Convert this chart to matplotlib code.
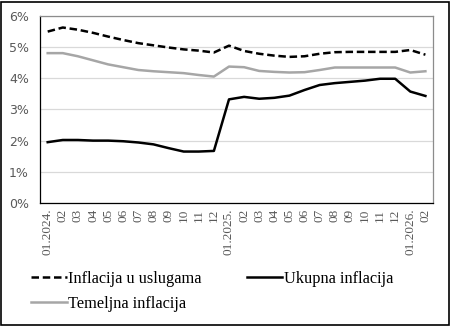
#importing the packages
import matplotlib
matplotlib.use("Agg")
import matplotlib.pyplot as plt
from matplotlib.patches import Rectangle

#data (percent, monthly 01.2024 - 02.2026)
months = ["01.2024.", "02", "03", "04", "05", "06", "07", "08", "09", "10", "11", "12",
          "01.2025.", "02", "03", "04", "05", "06", "07", "08", "09", "10", "11", "12",
          "01.2026.", "02"]
usluge = [5.49, 5.62, 5.55, 5.45, 5.33, 5.22, 5.12, 5.05, 4.98, 4.92, 4.88, 4.82,
          5.04, 4.87, 4.78, 4.72, 4.68, 4.70, 4.78, 4.83, 4.84, 4.84, 4.84, 4.84,
          4.90, 4.75]
ukupna = [1.95, 2.02, 2.02, 2.00, 2.00, 1.98, 1.94, 1.88, 1.76, 1.65, 1.65, 1.67,
          3.32, 3.40, 3.34, 3.37, 3.44, 3.62, 3.78, 3.84, 3.88, 3.92, 3.98, 3.98,
          3.57, 3.43]
temeljna = [4.80, 4.80, 4.70, 4.57, 4.44, 4.35, 4.26, 4.22, 4.19, 4.16, 4.10, 4.05,
            4.37, 4.35, 4.23, 4.20, 4.18, 4.19, 4.26, 4.34, 4.34, 4.34, 4.34, 4.34,
            4.18, 4.22]
yticks = [0, 1, 2, 3, 4, 5, 6]

x = range(len(months))

fig = plt.figure(figsize=(4.51, 3.26), dpi=100)
ax = fig.add_axes([0.089, 0.377, 0.871, 0.575])

#lines
l1, = ax.plot(x, usluge, color="black", linestyle=(0, (3, 1.5)), linewidth=1.8, label="Inflacija u uslugama")
l2, = ax.plot(x, ukupna, color="black", linewidth=1.8, label="Ukupna inflacija")
l3, = ax.plot(x, temeljna, color="#a6a6a6", linewidth=1.8, label="Temeljna inflacija")

#axes styling
ax.set_xlim(-0.5, len(months) - 0.5)
ax.set_ylim(0, 6)
ax.set_yticks(yticks)
ax.set_yticklabels([str(v) + "%" for v in yticks], fontfamily="DejaVu Sans", fontsize=9, color="#595959")
ax.set_xticks(list(x))
ax.set_xticklabels(months, rotation=90, fontfamily="Liberation Serif", fontsize=9.5, color="#595959")
ax.tick_params(axis="both", length=0, pad=4)
ax.tick_params(axis="y", pad=8)
ax.grid(axis="y", color="#d9d9d9", linewidth=0.9)
ax.set_axisbelow(True)
ax.spines["left"].set_color("black")
ax.spines["bottom"].set_color("black")
ax.spines["top"].set_color("#8c8c8c")
ax.spines["right"].set_color("#8c8c8c")
for s in ax.spines.values():
    s.set_linewidth(0.9)

#legend below the plot (order so rows read: usluge, ukupna / temeljna)
fig.legend([l1, l3, l2], [l1.get_label(), l3.get_label(), l2.get_label()],
           loc="upper left", bbox_to_anchor=(0.055, 0.19), ncol=2, frameon=False,
           prop={"family": "Liberation Serif", "size": 11.8}, handlelength=2.15,
           handletextpad=0.1, columnspacing=2.75, labelspacing=0.55, borderaxespad=0)

#outer border
fig.patches.append(Rectangle((0.003, 0.004), 0.993, 0.99, transform=fig.transFigure,
                             fill=False, edgecolor="black", linewidth=1.2))

fig.savefig("out.png", dpi=100)
